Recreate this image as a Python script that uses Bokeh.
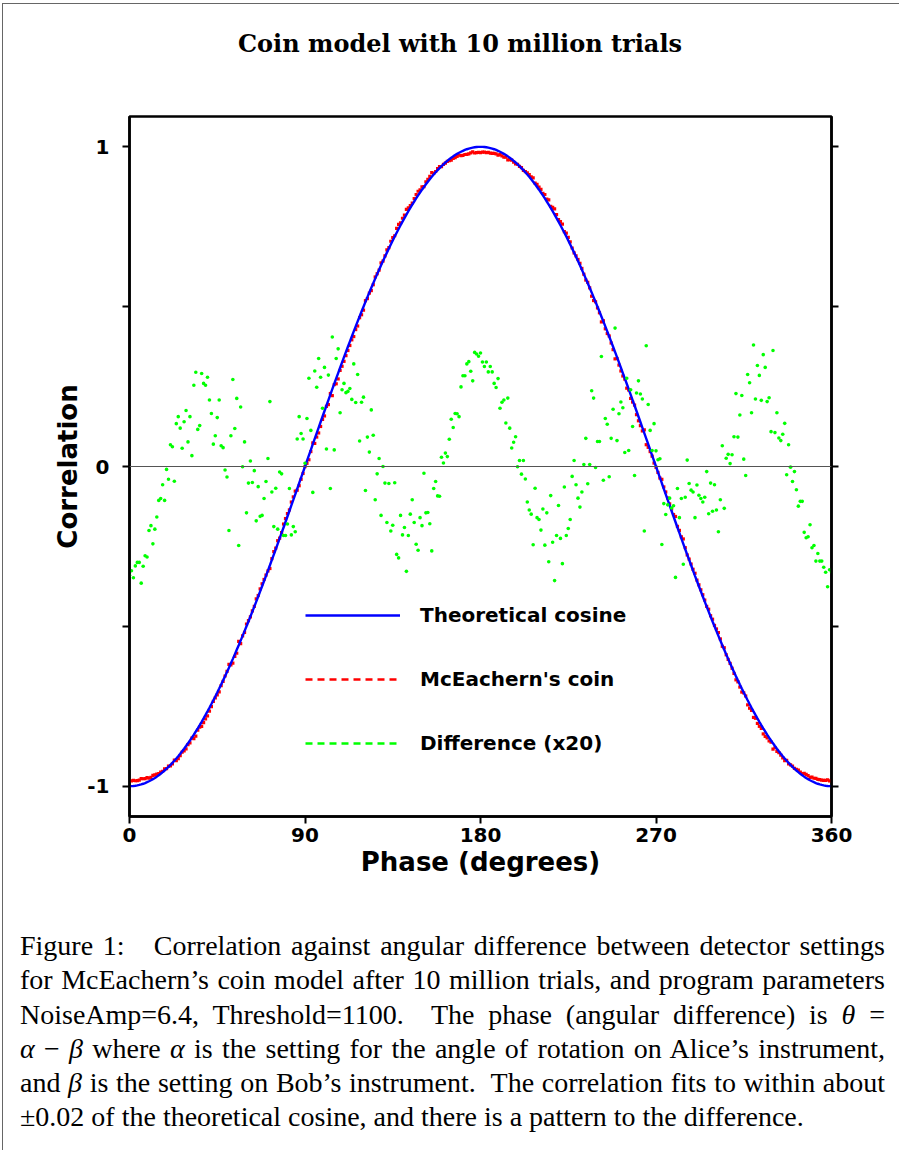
import numpy as np
from bokeh.plotting import figure
from bokeh.models import (Span, Legend, LegendItem, LinearAxis, FixedTicker,
                          Range1d, Div, ColumnDataSource)
from bokeh.layouts import column
from bokeh.embed import file_html
from bokeh.resources import INLINE

TITLE = "Coin model with 10 million trials"
X_LABEL = "Phase (degrees)"
Y_LABEL = "Correlation"
x_ticks = [0, 90, 180, 270, 360]
y_ticks = [-1, -0.5, 0, 0.5, 1]
y_tick_labels = {-1: "-1", -0.5: "", 0: "0", 0.5: "", 1: "1"}
series_names = ["Theoretical cosine", "McEachern's coin", "Difference (x20)"]

# phase in degrees, one sample per degree
phase = list(range(0, 361))

# difference (theory - coin) x 20
difference_x20 = [
    -0.340, -0.326, -0.348, -0.311, -0.300, -0.300, -0.365, -0.312, -0.279, -0.283,
    -0.200, -0.185, -0.242, -0.196, -0.158, -0.106, -0.100, -0.057, -0.106, -0.009,
    -0.040, 0.068, 0.062, -0.046, 0.134, 0.156, 0.120, 0.057, 0.140, 0.175,
    0.077, 0.156, 0.034, 0.254, 0.295, 0.116, 0.128, 0.291, 0.260, 0.254,
    0.279, 0.208, 0.166, 0.070, 0.096, 0.153, 0.208, 0.065, 0.059, -0.011,
    -0.033, -0.200, 0.096, 0.272, 0.119, 0.213, -0.247, 0.186, -0.001, 0.077,
    -0.145, -0.052, 0.017, -0.050, -0.013, -0.170, -0.063, -0.156, -0.153, -0.100,
    -0.047, 0.025, 0.203, -0.080, -0.188, -0.068, -0.196, -0.017, -0.023, -0.216,
    -0.216, -0.180, -0.069, -0.214, -0.188, -0.204, 0.086, 0.156, 0.103, 0.086,
    0.010, 0.150, 0.276, 0.113, -0.081, 0.299, 0.248, 0.338, 0.279, 0.182,
    0.310, 0.055, 0.286, -0.069, 0.405, 0.052, 0.338, 0.368, 0.168, 0.240,
    0.260, 0.231, 0.235, 0.244, 0.210, 0.321, 0.200, 0.288, 0.080, 0.201,
    0.217, -0.075, 0.092, 0.045, 0.177, 0.098, -0.104, -0.023, 0.025, -0.153,
    0.000, -0.052, -0.175, -0.053, -0.202, -0.184, -0.051, -0.275, -0.286, -0.153,
    -0.214, -0.191, -0.328, -0.216, -0.149, -0.104, -0.175, -0.243, -0.262, -0.160,
    -0.185, -0.021, -0.145, -0.144, -0.179, -0.264, -0.069, -0.047, -0.092, -0.093,
    0.029, 0.011, 0.042, 0.031, 0.085, 0.148, 0.122, 0.166, 0.165, 0.156,
    0.249, 0.284, 0.284, 0.321, 0.328, 0.298, 0.268, 0.357, 0.352, 0.345,
    0.355, 0.327, 0.313, 0.327, 0.296, 0.313, 0.296, 0.260, 0.247, 0.275,
    0.182, 0.201, 0.208, 0.136, 0.214, 0.120, 0.058, 0.076, 0.093, -0.001,
    0.019, -0.024, 0.019, -0.039, -0.111, -0.136, -0.149, -0.245, -0.068, -0.160,
    -0.166, -0.199, -0.133, -0.246, -0.145, -0.298, -0.091, -0.237, -0.357, -0.216,
    -0.122, -0.225, -0.304, -0.064, -0.216, -0.194, -0.166, -0.031, 0.019, -0.057,
    -0.099, -0.127, -0.080, 0.006, 0.088, -0.054, 0.006, 0.237, 0.214, -0.003,
    0.078, 0.078, 0.344, -0.043, 0.150, 0.132, -0.032, 0.088, 0.179, 0.433,
    0.081, 0.165, 0.202, 0.184, 0.044, 0.276, 0.050, 0.240, 0.125, -0.028,
    0.230, 0.268, 0.227, 0.211, -0.202, 0.378, 0.194, 0.113, 0.050, 0.134,
    0.049, 0.021, 0.024, -0.244, -0.116, -0.150, -0.120, -0.099, -0.130, -0.123,
    -0.347, -0.069, -0.160, -0.100, -0.306, -0.096, 0.020, -0.053, -0.074, -0.080,
    -0.160, -0.058, -0.090, -0.100, -0.111, -0.096, -0.016, -0.148, -0.052, -0.140,
    -0.057, -0.136, -0.204, -0.104, 0.065, -0.131, 0.026, 0.038, 0.009, 0.037,
    0.093, 0.228, 0.092, 0.161, 0.222, 0.023, -0.028, 0.288, 0.262, 0.168,
    0.380, 0.211, 0.316, 0.285, 0.207, 0.350, 0.310, 0.203, 0.215, 0.109,
    0.363, 0.106, 0.168, 0.089, 0.081, 0.101, 0.135, -0.026, 0.068, -0.002,
    -0.047, -0.016, -0.073, -0.124, -0.109, -0.109, -0.206, -0.223, -0.220, -0.182,
    -0.254, -0.247, -0.296, -0.272, -0.296, -0.296, -0.315, -0.331, -0.376, -0.323,
    -0.330,
]

theoretical = -np.cos(np.radians(phase))
coin = theoretical - np.array(difference_x20) / 20.0

src = ColumnDataSource(dict(phase=phase, theory=theoretical, coin=coin,
                            diff=difference_x20))

FONT = "DejaVu Sans"

p = figure(width=896, height=814, x_range=Range1d(0, 360),
           y_range=Range1d(-1.095, 1.095), output_backend="svg",
           toolbar_location=None, min_border_left=126, min_border_right=68,
           min_border_top=30, min_border_bottom=84)
p.xgrid.visible = False
p.ygrid.visible = False
p.outline_line_color = "black"
p.outline_line_width = 2.5
p.background_fill_color = "white"
p.border_fill_color = "white"


def style_axis(ax):
    ax.axis_line_width = 2.5
    ax.axis_line_color = "black"
    ax.major_tick_out = 7
    ax.major_tick_in = 0
    ax.major_tick_line_width = 2
    ax.minor_tick_line_color = None
    ax.major_label_text_font = FONT
    ax.major_label_text_font_style = "bold"
    ax.major_label_text_font_size = "20px"
    ax.major_label_text_color = "black"
    ax.axis_label_text_font = FONT
    ax.axis_label_text_font_style = "bold"
    ax.axis_label_text_font_size = "26px"
    ax.axis_label_text_color = "black"


xa = p.xaxis[0]
style_axis(xa)
xa.ticker = FixedTicker(ticks=x_ticks)
xa.axis_label = X_LABEL
xa.major_label_standoff = 4
xa.axis_label_standoff = 2

ya = p.yaxis[0]
style_axis(ya)
ya.ticker = FixedTicker(ticks=y_ticks)
ya.major_label_overrides = y_tick_labels
ya.axis_label = Y_LABEL
ya.major_label_standoff = 13
ya.axis_label_standoff = 1

ra = LinearAxis(ticker=FixedTicker(ticks=y_ticks))
style_axis(ra)
ra.major_label_text_color = None
ra.major_label_overrides = {t: "" for t in y_ticks}
p.add_layout(ra, "right")

p.add_layout(Span(location=0, dimension="width", line_color="#555555",
                  line_width=1))

p.scatter("phase", "coin", source=src, marker="square", size=3.2,
          color="#ff0000", line_width=0)
p.line("phase", "theory", source=src, line_color="#0000ff", line_width=2.4)
p.scatter("phase", "diff", source=src, marker="circle", size=3.6,
          color="#00ff00", line_width=0)

# legend-only renderers (a single undefined point, nothing drawn in the plot)
dummy = ColumnDataSource(dict(x=[np.nan], y=[np.nan]))
l1 = p.line("x", "y", source=dummy, line_color="#0000ff", line_width=2.4)
l2 = p.line("x", "y", source=dummy, line_color="#ff0000", line_width=2.5,
            line_dash="7 5")
l3 = p.line("x", "y", source=dummy, line_color="#00ff00", line_width=2.5,
            line_dash="7 5")

legend = Legend(items=[LegendItem(label=series_names[0], renderers=[l1]),
                       LegendItem(label=series_names[1], renderers=[l2]),
                       LegendItem(label=series_names[2], renderers=[l3])],
                location=(176, 61), orientation="vertical",
                glyph_width=95, glyph_height=20, label_height=20,
                spacing=40, padding=0, margin=0, label_standoff=20,
                background_fill_alpha=0, border_line_color=None,
                label_text_font=FONT, label_text_font_style="bold",
                label_text_font_size="20px", label_text_color="black")
p.add_layout(legend)

title_div = Div(
    text=('<div style="width:896px;text-align:center;font-family:\'DejaVu Serif\';'
          'font-weight:bold;font-size:24px;line-height:26px;padding-top:27px;'
          'padding-left:18px;box-sizing:border-box;color:black;">'
          + TITLE + '</div>'),
    width=896, height=82, margin=0)

caption_lines = [
    "Figure 1:&nbsp;&nbsp; Correlation against angular difference between detector settings",
    "for McEachern\u2019s coin model after 10 million trials, and program parameters",
    "NoiseAmp=6.4, Threshold=1100.&nbsp; The phase (angular difference) is <i>\u03b8</i> =",
    "<i>\u03b1</i> \u2212 <i>\u03b2</i> where <i>\u03b1</i> is the setting for the angle of rotation on Alice\u2019s instrument,",
    "and <i>\u03b2</i> is the setting on Bob\u2019s instrument.&nbsp; The correlation fits to within about",
    "\u00b10.02 of the theoretical cosine, and there is a pattern to the difference.",
]
cap_html = ""
for i, line in enumerate(caption_lines):
    last = i == len(caption_lines) - 1
    align = "left" if last else "justify"
    cap_html += ('<div style="white-space:nowrap;text-align:%s;text-align-last:%s;">%s</div>'
                 % (align, align, line))
caption_div = Div(
    text=('<div style="width:865px;margin-left:17px;padding-top:29px;'
          'font-family:\'Liberation Serif\';font-size:28px;line-height:34.3px;'
          'color:black;">' + cap_html + '</div>'),
    width=896, height=250, margin=0)

layout = column(title_div, p, caption_div, spacing=0, margin=(3, 0, 0, 2),
                styles={"border-left": "1px solid #666666",
                        "border-top": "1px solid #666666"})

open("out.html", "w").write(file_html(layout, INLINE))
